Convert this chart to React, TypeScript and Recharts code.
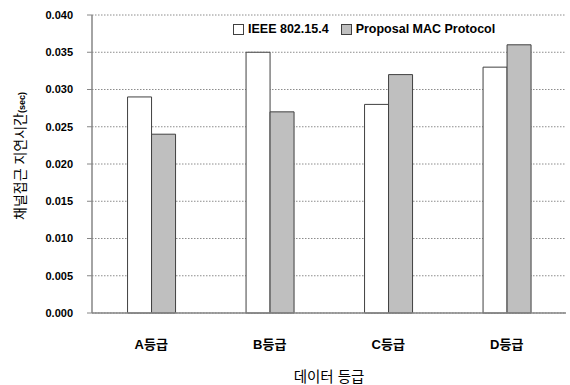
import React from "react";
import { BarChart, Bar, XAxis, YAxis, CartesianGrid } from "recharts";

const categories = ["A등급", "B등급", "C등급", "D등급"];
const ieeeValues = [0.029, 0.035, 0.028, 0.033];
const proposalValues = [0.024, 0.027, 0.032, 0.036];
const yTicks = [0, 0.005, 0.01, 0.015, 0.02, 0.025, 0.03, 0.035, 0.04];
const seriesNames = ["IEEE 802.15.4", "Proposal MAC Protocol"];
const xTitle = "데이터 등급";
const yTitle = "채널접근 지연시간";
const yUnit = "(sec)";

const data = categories.map((c, i) => ({
  name: c,
  ieee: ieeeValues[i],
  proposal: proposalValues[i],
}));

const FONT = "'Liberation Sans', 'Noto Sans CJK KR', sans-serif";

const LegendBox = () => (
  <div
    style={{
      position: "absolute",
      left: 233,
      top: 21,
      display: "flex",
      alignItems: "center",
      fontFamily: FONT,
      fontWeight: "bold",
      fontSize: 12.5,
      color: "#000",
      lineHeight: "16px",
      whiteSpace: "nowrap",
    }}
  >
    <span style={{ width: 9, height: 9, border: "1px solid #404040", background: "#fff", display: "inline-block", marginRight: 4 }} />
    <span style={{ marginRight: 12 }}>{seriesNames[0]}</span>
    <span style={{ width: 9, height: 9, border: "1px solid #404040", background: "#bfbfbf", display: "inline-block", marginRight: 4 }} />
    <span>{seriesNames[1]}</span>
  </div>
);

export default function App() {
  return (
    <div style={{ position: "absolute", left: 0, top: 0, width: 570, height: 385, background: "#fff" }}>
      <BarChart
        width={570}
        height={385}
        data={data}
        margin={{ top: 15, right: 4, bottom: 0, left: 0 }}
        barCategoryGap="30%"
        barGap={0}
      >
        <CartesianGrid
          vertical={false}
          stroke="#8c8c8c"
          strokeDasharray="1.5 1.5"
          strokeWidth={1}
        />
        <XAxis
          dataKey="name"
          height={72}
          axisLine={{ stroke: "#868686", strokeWidth: 1.5 }}
          tickLine={false}
          tick={{ fontFamily: FONT, fontSize: 13, fontWeight: "bold", fill: "#000" }}
          tickMargin={21}
          label={(props: any) => {
            const vb = props.viewBox || {};
            const cx = (vb.x ?? 92) + (vb.width ?? 474) / 2;
            return (
              <text
                x={cx}
                y={382}
                textAnchor="middle"
                style={{ fontFamily: FONT, fontSize: 14.5, fill: "#000" }}
              >
                {xTitle}
              </text>
            );
          }}
        />
        <YAxis
          width={92}
          domain={[0, 0.04]}
          ticks={yTicks}
          interval={0}
          tickFormatter={(v: number) => v.toFixed(3)}
          axisLine={{ stroke: "#868686", strokeWidth: 1.5 }}
          tickLine={{ stroke: "#868686" }}
          tickSize={5}
          tickMargin={14}
          tick={{ fontFamily: FONT, fontSize: 11, fontWeight: "bold", fill: "#000" }}
          label={(props: any) => {
            const vb = props.viewBox || {};
            const cy = (vb.y ?? 15) + (vb.height ?? 298) / 2 - 8;
            return (
              <text
                x={25}
                y={cy}
                transform={`rotate(-90, 25, ${cy})`}
                textAnchor="middle"
                style={{ fontFamily: FONT, fontSize: 14, fill: "#000" }}
              >
                {yTitle}
                <tspan fontSize={9} fontWeight="bold">{yUnit}</tspan>
              </text>
            );
          }}
        />
        <Bar
          dataKey="ieee"
          name={seriesNames[0]}
          fill="#ffffff"
          stroke="#404040"
          strokeWidth={1}
          isAnimationActive={false}
        />
        <Bar
          dataKey="proposal"
          name={seriesNames[1]}
          fill="#bfbfbf"
          stroke="#404040"
          strokeWidth={1}
          isAnimationActive={false}
        />
      </BarChart>
      <LegendBox />
    </div>
  );
}
